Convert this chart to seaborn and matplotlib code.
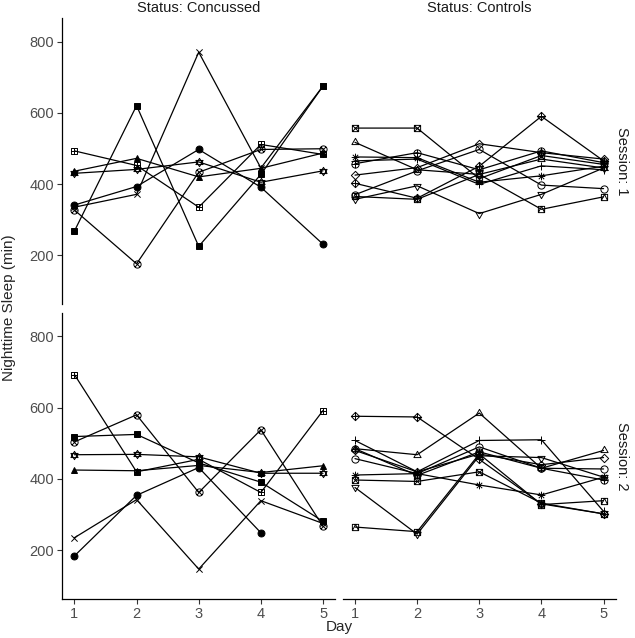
import numpy as np
import matplotlib
matplotlib.use("Agg")
import matplotlib.pyplot as plt
from matplotlib.path import Path
import seaborn as sns

days = [1, 2, 3, 4, 5]
statuses = ["Concussed", "Controls"]
sessions = [1, 2]

# nighttime sleep (min) per subject; key = subject shape
conc_s1 = {
    "x":        [335, 371, 770, 445, 675],
    "star":     [430, 441, 462, 405, 437],
    "sq_plus":  [493, 452, 335, 511, 483],
    "circ_x":   [327, 176, 433, 497, 499],
    "f_sq":     [268, 620, 225, 427, 675],
    "f_circ":   [341, 393, 497, 391, 231],
    "f_tri":    [436, 472, 420, 444, 487],
}
conc_s2 = {
    "x":        [235, 342, 147, 339, 275],
    "star":     [468, 469, 462, 416, 416],
    "sq_plus":  [693, 420, 455, 362, 592],
    "circ_x":   [504, 580, 362, 538, 267],
    "f_sq":     [519, 525, 445, 391, 281],
    "f_circ":   [184, 354, 432, 249, np.nan],
    "f_tri":    [425, 423, 438, 418, 437],
}
ctrl_s1 = {
    "sq_x":     [557, 557, 415, 480, 455],
    "tri":      [517, 440, 427, 470, 445],
    "aster":    [476, 474, 405, 423, 450],
    "plus":     [465, 470, 399, 451, 440],
    "circ_plus": [457, 488, 440, 493, 460],
    "dia":      [425, 446, 513, 488, 470],
    "dia_plus": [402, 360, 450, 590, 465],
    "circ":     [370, 437, 497, 397, 387],
    "tri_down": [357, 395, 317, 371, 445],
    "sq_tri":   [365, 357, 427, 329, 364],
}
ctrl_s2 = {
    "sq_x":     [397, 393, 420, 332, 302],
    "tri":      [485, 468, 585, 430, 480],
    "aster":    [411, 415, 383, 355, 405],
    "plus":     [508, 420, 508, 510, 309],
    "circ_plus": [485, 410, 476, 430, 397],
    "dia":      [480, 420, 470, 440, 460],
    "dia_plus": [576, 574, 455, 330, 302],
    "circ":     [457, 415, 490, 430, 428],
    "tri_down": [376, 245, 465, 460, 405],
    "sq_tri":   [265, 252, 470, 328, 339],
}
panels = {("Concussed", 1): conc_s1, ("Concussed", 2): conc_s2,
          ("Controls", 1): ctrl_s1, ("Controls", 2): ctrl_s2}

M, L, C = Path.MOVETO, Path.LINETO, Path.CLOSEPOLY


def join(*paths):
    v, c = [], []
    for p in paths:
        v += p.vertices.tolist()
        c += p.codes.tolist()
    return Path(v, c)


k = 0.707
sq = Path([(-1, -1), (1, -1), (1, 1), (-1, 1), (-1, -1)], [M, L, L, L, C])
plus = Path([(-1, 0), (1, 0), (0, -1), (0, 1)], [M, L, M, L])
cross = Path([(-1, -1), (1, 1), (-1, 1), (1, -1)], [M, L, M, L])
crossc = Path([(-k, -k), (k, k), (-k, k), (k, -k)], [M, L, M, L])
circ = Path.unit_circle()
up = Path([(0, 1), (-0.866, -0.5), (0.866, -0.5), (0, 1)], [M, L, L, C])
down = Path([(0, -1), (-0.866, 0.5), (0.866, 0.5), (0, -1)], [M, L, L, C])
dia = Path([(0, 1), (1, 0), (0, -1), (-1, 0), (0, 1)], [M, L, L, L, C])
tri_in = Path([(-1, -1), (0, 1), (1, -1)], [M, L, L])

markers = {
    "x": (cross, 4.5, False),
    "plus": (plus, 5.5, False),
    "star": (join(up, down), 6, False),
    "sq_plus": (join(sq, plus), 4.5, False),
    "sq_x": (join(sq, cross), 4.5, False),
    "sq_tri": (join(sq, tri_in), 4.5, False),
    "circ_x": (join(circ, crossc), 5.2, False),
    "circ_plus": (join(circ, plus), 5.2, False),
    "circ": (circ, 5.2, False),
    "tri": (up, 6, False),
    "tri_down": (down, 6, False),
    "dia": (dia, 6, False),
    "dia_plus": (join(dia, plus), 6, False),
    "aster": (join(plus, crossc), 5.5, False),
    "f_sq": ("s", 4.2, True),
    "f_circ": ("o", 5, True),
    "f_tri": ("^", 5, True),
}

sns.set_style("ticks")
plt.rcParams["font.family"] = ["Liberation Sans", "DejaVu Sans"]

fig, axes = plt.subplots(2, 2, figsize=(6.35, 6.38), dpi=100)
fig.subplots_adjust(left=62 / 635, right=616 / 635, top=1 - 18 / 638,
                    bottom=1 - 599 / 638, wspace=0.026, hspace=0.031)

for (status, session), data in panels.items():
    ax = axes[session - 1, statuses.index(status)]
    for shp, vals in data.items():
        m, ms, filled = markers[shp]
        sns.lineplot(x=days, y=vals, ax=ax, color="black", lw=0.9,
                     marker=m, markersize=ms, markeredgecolor="black",
                     markerfacecolor="black" if filled else "none",
                     markeredgewidth=0.7)
    ax.set_xlim(0.8, 5.2)
    ax.set_ylim(63, 866)
    ax.set_xticks(days)
    ax.set_yticks([200, 400, 600, 800])
    ax.set_xlabel("")
    ax.set_ylabel("")
    for s in ["top", "right"]:
        ax.spines[s].set_visible(False)
    for s in ["left", "bottom"]:
        ax.spines[s].set_linewidth(0.9)
        ax.spines[s].set_color("black")
    ax.tick_params(length=3.5, width=0.8, color="#333333",
                   labelcolor="#4D4D4D", labelsize=10.5, pad=2)
    if session == 1:
        ax.spines["bottom"].set_visible(False)
        ax.tick_params(axis="x", bottom=False, labelbottom=False)
    if status == "Controls":
        ax.spines["left"].set_visible(False)
        ax.tick_params(axis="y", left=False, labelleft=False)

for j, status in enumerate(statuses):
    bb = axes[0, j].get_position()
    fig.text((bb.x0 + bb.x1) / 2, 1 - 8 / 638, f"Status: {status}",
             ha="center", va="center", fontsize=10.5, color="#1A1A1A")
for i, session in enumerate(sessions):
    bb = axes[i, 1].get_position()
    fig.text(622 / 635, (bb.y0 + bb.y1) / 2, f"Session: {session}",
             ha="center", va="center", rotation=-90, fontsize=10.5,
             color="#1A1A1A")

fig.text(9 / 635, 1 - 308 / 638, "Nighttime Sleep (min)", rotation=90,
         ha="center", va="center", fontsize=11)
fig.text(339 / 635, 1 - 627 / 638, "Day", ha="center", va="center",
         fontsize=11)

fig.savefig("out.png", dpi=100)
